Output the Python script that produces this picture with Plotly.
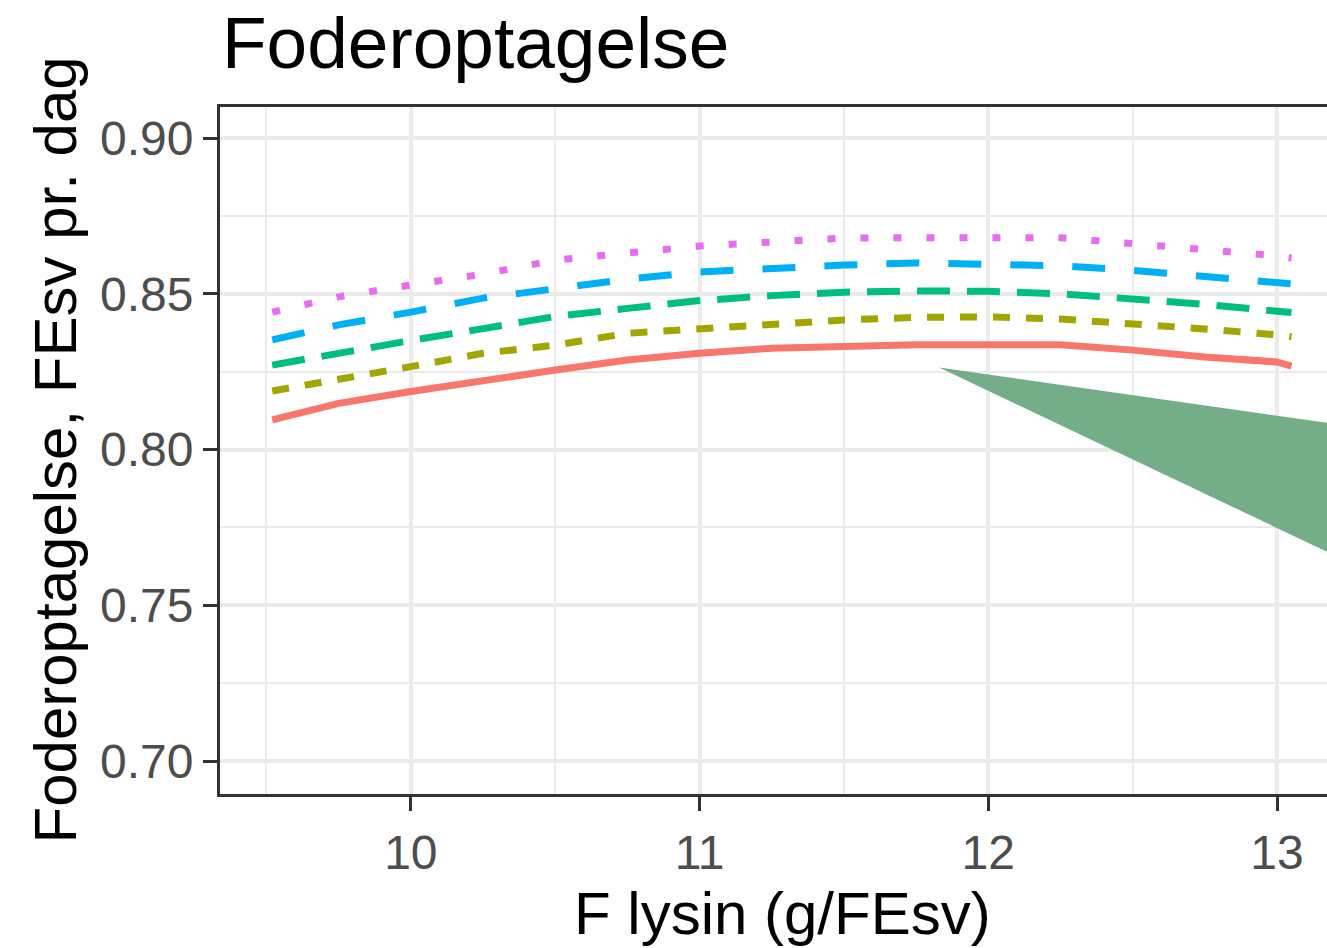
import plotly.graph_objects as go

# ---- data ----
x_lysin = [9.52, 9.75, 10.0, 10.25, 10.5, 10.75, 11.0, 11.25, 11.5, 11.75, 12.0, 12.25, 12.5, 12.75, 13.0, 13.05]

serie_1 = [0.8095, 0.8148, 0.8186, 0.8223, 0.8255, 0.8287, 0.8309, 0.8325, 0.8333, 0.8336, 0.8336, 0.8336, 0.8319, 0.8297, 0.8281, 0.8268]
serie_2 = [0.8188, 0.8223, 0.8266, 0.8309, 0.8335, 0.8373, 0.8389, 0.8405, 0.8416, 0.8424, 0.8426, 0.8419, 0.8405, 0.8387, 0.8368, 0.8362]
serie_3 = [0.8271, 0.8310, 0.8350, 0.8388, 0.8427, 0.8453, 0.8478, 0.8494, 0.8505, 0.8509, 0.8508, 0.8500, 0.8484, 0.8466, 0.8444, 0.8440]
serie_4 = [0.8352, 0.8400, 0.8441, 0.8486, 0.8516, 0.8547, 0.8570, 0.8583, 0.8592, 0.8599, 0.8597, 0.8590, 0.8575, 0.8557, 0.8535, 0.8532]
serie_5 = [0.8441, 0.8490, 0.8528, 0.8563, 0.8608, 0.8628, 0.8653, 0.8666, 0.8679, 0.8680, 0.8680, 0.8680, 0.8661, 0.8644, 0.8622, 0.8615]

series_names = ["1", "2", "3", "4", "5"]
series_values = [serie_1, serie_2, serie_3, serie_4, serie_5]
series_colors = ["#F8766D", "#A3A500", "#00BF7D", "#00B0F6", "#E76BF3"]
series_dash = ["solid", "17px,16px", "33px,17px", "33px,29px", "8px,25px"]

title_text = "Foderoptagelse"
x_title = "F lysin (g/FEsv)"
y_title = "Foderoptagelse, FEsv pr. dag"

FONT = "Liberation Sans, Arial, sans-serif"

fig = go.Figure()
for name, vals, col, dash in zip(series_names, series_values, series_colors, series_dash):
    fig.add_trace(go.Scatter(x=x_lysin, y=vals, mode="lines", name=name,
                             line=dict(color=col, width=7, dash=dash),
                             showlegend=False))

# green pointer overlay
fig.add_shape(type="path",
              path="M 11.83,0.8263 L 13.2,0.8082 L 13.2,0.7660 Z",
              xref="x", yref="y", fillcolor="#73AE89", line=dict(width=0),
              layer="above")

W, H = 1327, 948
L, T, B, R = 220, 107, 154, 0

fig.update_layout(
    width=W, height=H,
    margin=dict(l=L, r=R, t=T, b=B, pad=0),
    paper_bgcolor="white", plot_bgcolor="white",
    font=dict(family=FONT),
    title=dict(text=title_text, font=dict(size=73, color="black", family=FONT),
               x=222 / W, xref="container", xanchor="left",
               y=1 - 42 / H, yref="container", yanchor="middle"),
    showlegend=False,
)

fig.update_xaxes(
    range=[9.3391, 13.173],
    tick0=10, dtick=1,
    showgrid=True, gridcolor="#EBEBEB", gridwidth=3.5,
    minor=dict(dtick=0.5, tick0=9.5, showgrid=True, gridcolor="#EBEBEB", gridwidth=2),
    showline=True, linecolor="#333333", linewidth=3, mirror=True,
    ticks="outside", ticklen=14, tickwidth=3, tickcolor="#333333",
    tickfont=dict(size=48, color="#4D4D4D", family=FONT),
    zeroline=False,
)
fig.update_yaxes(
    range=[0.68941, 0.90995],
    tick0=0.70, dtick=0.05, tickformat=".2f",
    showgrid=True, gridcolor="#EBEBEB", gridwidth=3.5,
    minor=dict(dtick=0.025, tick0=0.70, showgrid=True, gridcolor="#EBEBEB", gridwidth=2),
    showline=True, linecolor="#333333", linewidth=3, mirror=False,
    ticks="outside", ticklen=14, tickwidth=3, tickcolor="#333333",
    tickfont=dict(size=48, color="#4D4D4D", family=FONT),
    zeroline=False,
)

plot_w = W - L - R
# x-axis title centred on the full (cropped) panel
fig.add_annotation(text=x_title, xref="paper", yref="paper",
                   x=(782 - L) / plot_w, y=-(913 - 794) / (H - T - B),
                   xanchor="center", yanchor="middle", showarrow=False,
                   font=dict(size=60, color="black", family=FONT))
fig.add_annotation(text=y_title, xref="paper", yref="paper",
                   x=(55 - L) / plot_w, y=0.5, textangle=-90,
                   xanchor="center", yanchor="middle", showarrow=False,
                   font=dict(size=60, color="black", family=FONT))

fig.write_html("out.html")
